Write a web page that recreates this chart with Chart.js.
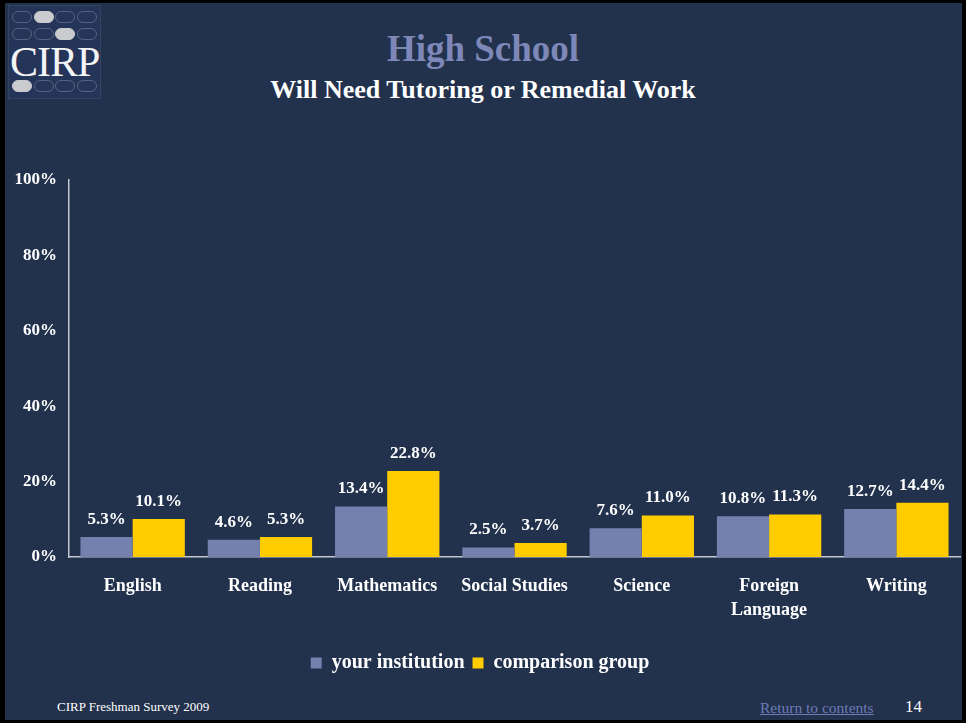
<!DOCTYPE html>
<html>
<head>
<meta charset="utf-8">
<script src="https://cdn.jsdelivr.net/npm/chart.js@4"></script>
<style>
  html,body{margin:0;padding:0;background:#000;}
  #page{position:absolute;left:0;top:0;width:966px;height:723px;background:#000;overflow:hidden;}
  #slide{position:absolute;left:5px;top:3px;width:957px;height:717px;background:#22314C;}
  #chartwrap{position:absolute;left:0;top:0;width:966px;height:723px;}
  .t{position:absolute;font-family:"Liberation Serif","DejaVu Serif",serif;white-space:nowrap;line-height:1.15;}
  #title{left:0;width:966px;text-align:center;top:28px;font-size:37px;font-weight:bold;color:#7D88B8;}
  #sub{left:0;width:966px;text-align:center;top:75px;font-size:26px;font-weight:bold;color:#FFFFFF;}
  #logo{position:absolute;left:8px;top:5px;width:93px;height:94px;background:#25355A;border:1px solid #34445F;box-sizing:border-box;}
  .ov{position:absolute;width:20px;height:12px;border-radius:6px;border:1px solid #56637E;box-sizing:border-box;}
  .ov.f{background:#C9CBCE;border-color:#C9CBCE;}
  #cirp{position:absolute;left:1px;top:32px;font-family:"Liberation Serif",serif;font-size:42px;color:#F4F4F4;letter-spacing:-1px;line-height:1.15;}
  #foot{left:57px;top:700px;font-size:13px;color:#FFFFFF;}
  #ret{left:760px;top:699px;font-size:15.5px;color:#6E7BB5;text-decoration:underline;}
  #pg{left:905px;top:697px;font-size:17px;color:#FFFFFF;}
</style>
</head>
<body>
<div id="page">
  <div id="slide"></div>
  <div id="logo"></div>
  <div class="t" id="title">High School</div>
  <div class="t" id="sub">Will Need Tutoring or Remedial Work</div>
  <div class="t" id="foot">CIRP Freshman Survey 2009</div>
  <div class="t" id="ret">Return to contents</div>
  <div class="t" id="pg">14</div>
  <div id="chartwrap"><canvas id="c" width="966" height="723"></canvas></div>
</div>
<script>
// ---- data ----
const categories = ["English", "Reading", "Mathematics", "Social Studies", "Science", ["Foreign", "Language"], "Writing"];
const yourInstitution = [5.3, 4.6, 13.4, 2.5, 7.6, 10.8, 12.7];
const comparisonGroup = [10.1, 5.3, 22.8, 3.7, 11.0, 11.3, 14.4];
const seriesNames = ["your institution", "comparison group"];
const yTicks = [0, 20, 40, 60, 80, 100];

// ---- logo (decorative) ----
(function(){
  const logo = document.getElementById('logo');
  const rows = [{y:5, f:1},{y:22, f:2},{y:74, f:0}];
  rows.forEach(r => {
    for (let i=0;i<4;i++){
      const d = document.createElement('div');
      d.className = 'ov' + (i===r.f ? ' f' : '');
      d.style.left = (3 + i*21.5) + 'px';
      d.style.top = r.y + 'px';
      logo.appendChild(d);
    }
  });
  const t = document.createElement('div');
  t.id = 'cirp'; t.textContent = 'CIRP';
  logo.appendChild(t);
})();

const serif = '"Liberation Serif", "DejaVu Serif", serif';

const valueLabels = {
  id: 'valueLabels',
  afterDatasetsDraw(chart) {
    const ctx = chart.ctx;
    ctx.save();
    ctx.font = 'bold 17px ' + serif;
    ctx.fillStyle = '#FFFFFF';
    ctx.textAlign = 'center';
    ctx.textBaseline = 'bottom';
    chart.data.datasets.forEach((ds, di) => {
      const meta = chart.getDatasetMeta(di);
      meta.data.forEach((bar, i) => {
        ctx.fillText(ds.data[i].toFixed(1) + '%', bar.x, bar.y - 9);
      });
    });
    ctx.restore();
  }
};

new Chart(document.getElementById('c'), {
  type: 'bar',
  data: {
    labels: categories,
    datasets: [
      { label: seriesNames[0], data: yourInstitution, backgroundColor: '#7480AE', borderWidth: 0 },
      { label: seriesNames[1], data: comparisonGroup, backgroundColor: '#FFCC00', borderWidth: 0 }
    ]
  },
  options: {
    responsive: false,
    animation: false,
    devicePixelRatio: 1,
    layout: { padding: { left: 0, right: 6, top: 180, bottom: 40 } },
    datasets: { bar: { categoryPercentage: 0.82, barPercentage: 1.0 } },
    scales: {
      x: {
        grid: { display: false },
        border: { display: true, color: '#C3C7D0', width: 1.5 },
        ticks: { color: '#FFFFFF', font: { family: serif, size: 18, weight: 'bold', lineHeight: 1.3 }, padding: 10, maxRotation: 0, autoSkip: false },
        afterFit(s) { s.height = 88; }
      },
      y: {
        min: 0, max: 100,
        afterBuildTicks(s) { s.ticks = yTicks.map(v => ({ value: v })); },
        grid: { display: false },
        border: { display: true, color: '#C3C7D0', width: 1.5 },
        ticks: { color: '#FFFFFF', font: { family: serif, size: 17, weight: 'bold' }, padding: 4, callback: v => v + '%' },
        afterFit(s) { s.width = 69; }
      }
    },
    plugins: {
      legend: {
        position: 'bottom',
        labels: { color: '#FFFFFF', font: { family: serif, size: 20, weight: 'bold' }, boxWidth: 11, boxHeight: 11, padding: 8 }
      },
      tooltip: { enabled: false },
      title: { display: false }
    }
  },
  plugins: [valueLabels]
});
</script>
</body>
</html>
